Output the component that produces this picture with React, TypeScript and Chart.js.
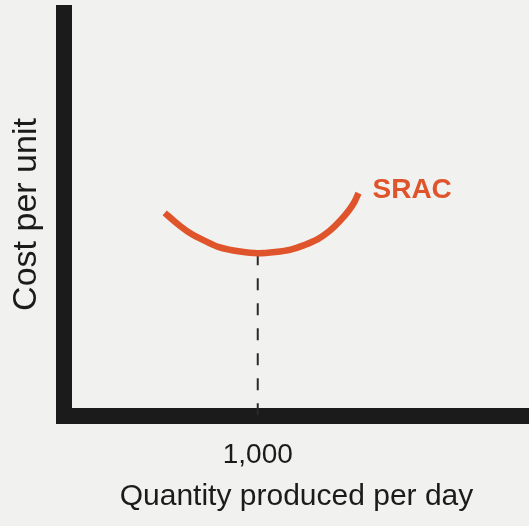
import React, { useEffect, useRef } from "react";
import { Chart, registerables } from "chart.js";

Chart.register(...registerables);

// ---- data ----
const quantities = [520, 580, 650, 730, 800, 910, 1000, 1090, 1170, 1240, 1310, 1370, 1420, 1470, 1500, 1520];
const sracCost = [50.4, 47.9, 45.4, 43.4, 41.9, 40.8, 40.4, 40.7, 41.3, 42.4, 43.9, 45.9, 48.2, 51.0, 53.2, 55.3];
const minQuantity = 1000;
const minCost = 40.4;
const xTickValues = [1000];
const curveLabel = "SRAC";
const xTitle = "Quantity produced per day";
const yTitle = "Cost per unit";
const xRange = [0, 2400];
const yRange = [0, 100];

// ---- styles ----
const FONT = '"Liberation Sans", Arial, Helvetica, sans-serif';
const ORANGE = "#e0542b";
const INK = "#1b1b1b";
const BG = "#f1f1ef";

const bgPlugin = {
  id: "bgFill",
  beforeDraw(chart: any) {
    const { ctx, width, height } = chart;
    ctx.save();
    ctx.fillStyle = BG;
    ctx.fillRect(0, 0, width, height);
    ctx.restore();
  },
};

const labelPlugin = {
  id: "curveLabel",
  afterDatasetsDraw(chart: any) {
    const meta = chart.getDatasetMeta(0);
    const pts = meta.data;
    if (!pts || !pts.length) return;
    const last = pts[pts.length - 1];
    const ctx = chart.ctx;
    ctx.save();
    ctx.font = `bold 28px ${FONT}`;
    ctx.fillStyle = ORANGE;
    ctx.textAlign = "left";
    ctx.textBaseline = "alphabetic";
    ctx.fillText(curveLabel, last.x + 14, last.y + 5);
    ctx.restore();
  },
};

export default function App() {
  const ref = useRef<HTMLCanvasElement | null>(null);

  useEffect(() => {
    if (!ref.current) return;
    const curve = quantities.map((q, i) => ({ x: q, y: sracCost[i] }));
    const dashed = [
      { x: minQuantity, y: minCost },
      { x: minQuantity, y: yRange[0] },
    ];
    const chart = new Chart(ref.current, {
      type: "line",
      data: {
        datasets: [
          {
            data: curve,
            borderColor: ORANGE,
            borderWidth: 6.5,
            borderJoinStyle: "round",
            pointRadius: 0,
            cubicInterpolationMode: "monotone",
            fill: false,
          },
          {
            data: dashed,
            borderColor: "#2a2a2a",
            borderWidth: 2,
            borderDash: [12, 13],
            pointRadius: 0,
            fill: false,
          },
        ],
      },
      options: {
        animation: false,
        responsive: true,
        maintainAspectRatio: false,
        layout: { padding: { top: 13, left: 0, right: 0, bottom: 0 } },
        plugins: {
          legend: { display: false },
          tooltip: { enabled: false },
          title: { display: false },
        },
        scales: {
          x: {
            type: "linear",
            min: xRange[0],
            max: xRange[1],
            grid: { display: false, drawTicks: false },
            border: { display: true, color: INK, width: 16 },
            afterBuildTicks: (scale: any) => {
              scale.ticks = xTickValues.map((v) => ({ value: v }));
            },
            afterFit: (scale: any) => {
              scale.height = 110;
            },
            ticks: {
              padding: 22,
              color: INK,
              font: { family: FONT, size: 28 },
              maxRotation: 0,
              callback: (v: any) => Number(v).toLocaleString("en-US"),
            },
            title: {
              display: true,
              text: xTitle,
              color: INK,
              font: { family: FONT, size: 30 },
              padding: { top: 8, bottom: 11 },
            },
          },
          y: {
            type: "linear",
            min: yRange[0],
            max: yRange[1],
            grid: { display: false, drawTicks: false },
            border: { display: true, color: INK, width: 16 },
            ticks: { display: false },
            afterFit: (scale: any) => {
              scale.width = 64;
            },
            title: {
              display: true,
              text: yTitle,
              color: INK,
              font: { family: FONT, size: 34 },
              padding: { top: 6, bottom: 10 },
            },
          },
        },
      },
      plugins: [bgPlugin, labelPlugin],
    });
    return () => chart.destroy();
  }, []);

  return (
    <div
      style={{
        position: "fixed",
        left: 0,
        top: 0,
        width: 529,
        height: 526,
        background: BG,
      }}
    >
      <canvas ref={ref} />
    </div>
  );
}
